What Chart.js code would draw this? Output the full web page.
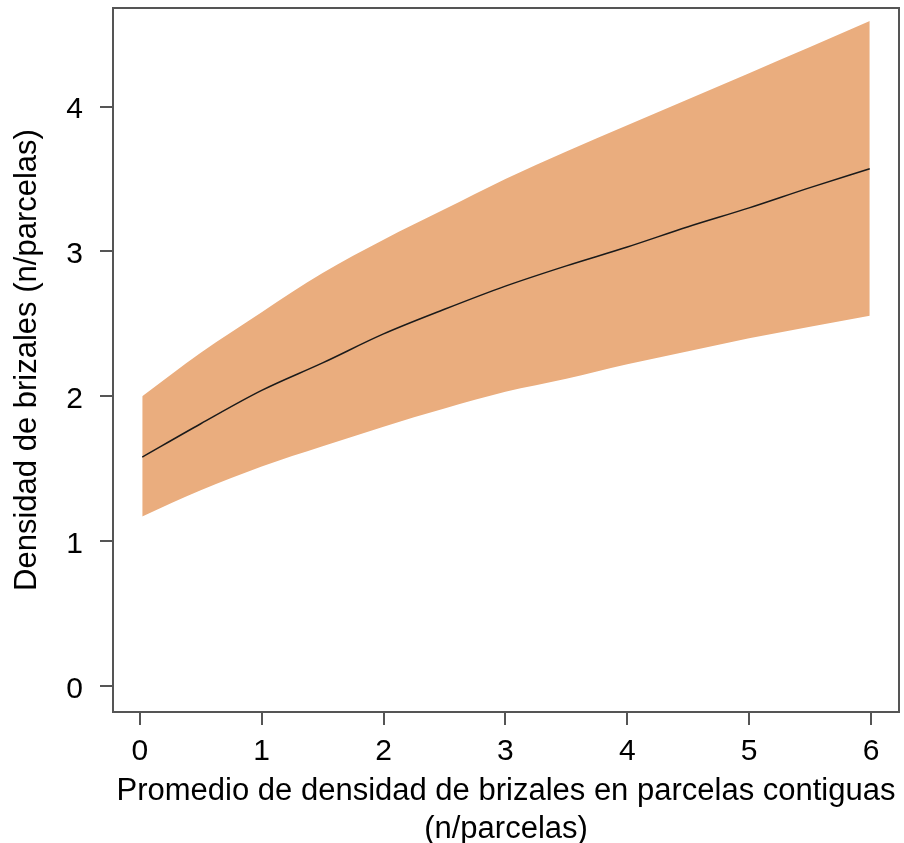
<!DOCTYPE html>
<html>
<head>
<meta charset="utf-8">
<script src="https://cdn.jsdelivr.net/npm/chart.js@4.4.1/dist/chart.umd.min.js"></script>
<style>
  html, body { margin: 0; padding: 0; background: #ffffff; }
  canvas { display: block; }
</style>
</head>
<body>
<canvas id="chart" width="904" height="843"></canvas>
<script>
// Predicted seedling density against mean density in neighbouring plots
const densVecinas = [0.02, 0.5, 1, 1.5, 2, 2.5, 3, 3.5, 4, 4.5, 5, 5.5, 5.99];
const ajuste      = [1.58, 1.81, 2.04, 2.23, 2.43, 2.60, 2.76, 2.90, 3.03, 3.17, 3.30, 3.44, 3.57];
const icSuperior  = [2.00, 2.30, 2.58, 2.85, 3.08, 3.29, 3.50, 3.69, 3.87, 4.05, 4.23, 4.41, 4.59];
const icInferior  = [1.17, 1.35, 1.515, 1.655, 1.79, 1.915, 2.03, 2.12, 2.22, 2.31, 2.40, 2.48, 2.555];

const ticksX = [0, 1, 2, 3, 4, 5, 6];
const ticksY = [0, 1, 2, 3, 4];

const tituloX = ['Promedio de densidad de brizales en parcelas contiguas', '(n/parcelas)'];
const tituloY = 'Densidad de brizales (n/parcelas)';

const FAMILIA = '"Liberation Sans", Arial, sans-serif';
const COLOR_BANDA = '#EAAD7E';
const COLOR_EJE = '#555555';

const puntos = (ys) => densVecinas.map((x, i) => ({ x: x, y: ys[i] }));

// Full frame around the plotting region
const marco = {
  id: 'marco',
  afterDraw(chart) {
    const { ctx, chartArea: a } = chart;
    ctx.save();
    ctx.strokeStyle = COLOR_EJE;
    ctx.lineWidth = 2;
    ctx.strokeRect(a.left, a.top, a.right - a.left, a.bottom - a.top);
    ctx.restore();
  }
};

new Chart(document.getElementById('chart'), {
  type: 'line',
  data: {
    datasets: [
      {
        label: 'ajuste',
        data: puntos(ajuste),
        borderColor: '#1a1a1a',
        borderWidth: 1.5,
        pointRadius: 0,
        fill: false,
        cubicInterpolationMode: 'monotone'
      },
      {
        label: 'superior',
        data: puntos(icSuperior),
        borderWidth: 0,
        borderColor: 'rgba(0,0,0,0)',
        backgroundColor: COLOR_BANDA,
        pointRadius: 0,
        fill: '+1',
        cubicInterpolationMode: 'monotone'
      },
      {
        label: 'inferior',
        data: puntos(icInferior),
        borderWidth: 0,
        borderColor: 'rgba(0,0,0,0)',
        pointRadius: 0,
        fill: false,
        cubicInterpolationMode: 'monotone'
      }
    ]
  },
  options: {
    responsive: false,
    animation: false,
    layout: { padding: { top: 8, right: 5, left: 0, bottom: 0 } },
    plugins: {
      legend: { display: false },
      tooltip: { enabled: false }
    },
    scales: {
      x: {
        type: 'linear',
        min: -0.22,
        max: 6.23,
        afterBuildTicks: (s) => { s.ticks = ticksX.map(v => ({ value: v })); },
        afterFit: (s) => { s.height = 131; },
        border: { display: false },
        grid: { display: true, drawOnChartArea: false, drawTicks: true, tickLength: 13, color: COLOR_EJE, lineWidth: 2 },
        ticks: { font: { family: FAMILIA, size: 30 }, color: '#000', padding: 9, autoSkip: false, maxRotation: 0 },
        title: {
          display: true,
          text: tituloX,
          color: '#000',
          font: { family: FAMILIA, size: 31, lineHeight: 1.22 },
          padding: { top: 0, bottom: -5 }
        }
      },
      y: {
        type: 'linear',
        min: -0.18,
        max: 4.68,
        afterBuildTicks: (s) => { s.ticks = ticksY.map(v => ({ value: v })); },
        afterFit: (s) => { s.width = 113; s.paddingTop = 0; s.paddingBottom = 0; },
        border: { display: false },
        grid: { display: true, drawOnChartArea: false, drawTicks: true, tickLength: 13, color: COLOR_EJE, lineWidth: 2 },
        ticks: { font: { family: FAMILIA, size: 30 }, color: '#000', padding: 17, labelOffset: 3.5, autoSkip: false },
        title: {
          display: true,
          text: tituloY,
          color: '#000',
          font: { family: FAMILIA, size: 31, lineHeight: 1.2 },
          padding: { top: 9, bottom: 0 }
        }
      }
    }
  },
  plugins: [marco]
});
</script>
</body>
</html>
